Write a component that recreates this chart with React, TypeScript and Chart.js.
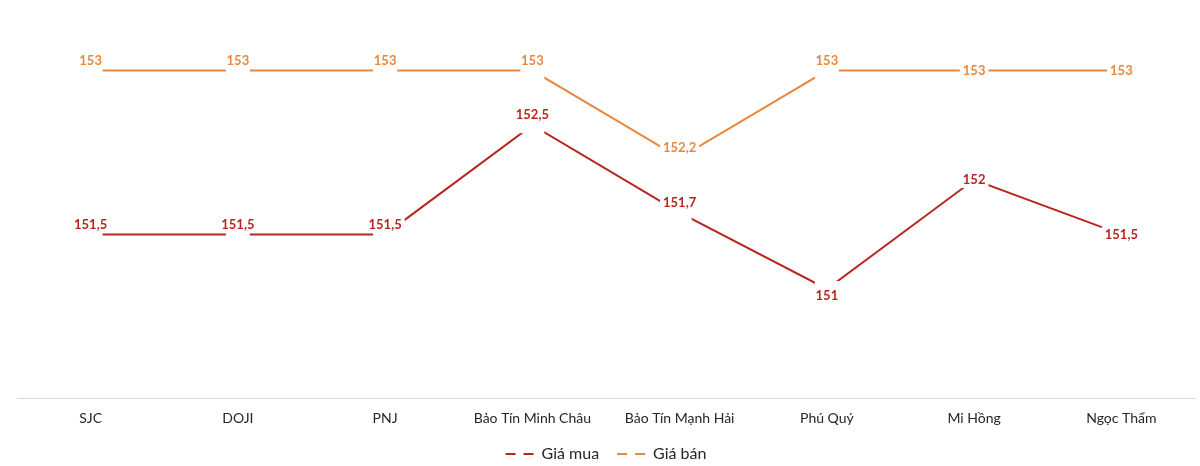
import { useEffect, useRef } from 'react'
import { Chart, registerables } from 'chart.js'
import type { Plugin } from 'chart.js'

Chart.register(...registerables)

// Gold price (million VND / tael) by company
const companies = ['SJC', 'DOJI', 'PNJ', 'Bảo Tín Minh Châu', 'Bảo Tín Mạnh Hải', 'Phú Quý', 'Mi Hồng', 'Ngọc Thẩm']
const buyPrices = [151.5, 151.5, 151.5, 152.5, 151.7, 151, 152, 151.5]
const sellPrices = [153, 153, 153, 153, 152.2, 153, 153, 153]

// where each value label sits relative to its point
const buyLabelPos = ['above', 'above', 'above', 'above', 'above', 'below', 'center', 'center']
const sellLabelPos = ['above', 'above', 'above', 'above', 'above', 'above', 'center', 'center']

const RED = '#B8261F'
const ORANGE = '#E8883F'
const FONT = 'Lato, "Open Sans", sans-serif'

const fmt = (v: number) => String(v).replace('.', ',')

const posShift: Record<string, number> = { above: -10, center: 0, below: 7 }

// Excel-style data labels: white boxes that hide the line round each point
const valueLabels: Plugin<'line'> = {
  id: 'valueLabels',
  afterDatasetsDraw(chart) {
    const ctx = chart.ctx
    ctx.save()
    ctx.font = `bold 13px ${FONT}`
    ctx.textAlign = 'center'
    ctx.textBaseline = 'middle'
    // masks first so no label is cut by a later one
    chart.data.datasets.forEach((_, di) => {
      const meta = chart.getDatasetMeta(di)
      meta.data.forEach((pt) => {
        ctx.fillStyle = '#ffffff'
        ctx.fillRect(pt.x - 12, pt.y - 8, 24, 16)
      })
    })
    chart.data.datasets.forEach((ds, di) => {
      const meta = chart.getDatasetMeta(di)
      const places = di === 0 ? buyLabelPos : sellLabelPos
      meta.data.forEach((pt, i) => {
        const text = fmt(ds.data[i] as number)
        const y = pt.y + posShift[places[i]]
        const w = ctx.measureText(text).width
        ctx.fillStyle = '#ffffff'
        ctx.fillRect(pt.x - w / 2 - 3, y - 8, w + 6, 16)
        ctx.fillStyle = ds.borderColor as string
        ctx.fillText(text, pt.x, y)
      })
    })
    ctx.restore()
  },
}

export default function App() {
  const canvasRef = useRef<HTMLCanvasElement | null>(null)
  const chartRef = useRef<Chart | null>(null)

  useEffect(() => {
    document.body.style.margin = '0'
    if (!canvasRef.current) return
    if (chartRef.current) chartRef.current.destroy()

    chartRef.current = new Chart(canvasRef.current, {
      type: 'line',
      data: {
        labels: companies,
        datasets: [
          {
            label: 'Giá mua',
            data: buyPrices,
            borderColor: RED,
            backgroundColor: RED,
            borderWidth: 2,
            pointRadius: 0,
            tension: 0,
          },
          {
            label: 'Giá bán',
            data: sellPrices,
            borderColor: ORANGE,
            backgroundColor: ORANGE,
            borderWidth: 2,
            pointRadius: 0,
            tension: 0,
          },
        ],
      },
      options: {
        responsive: true,
        maintainAspectRatio: false,
        animation: false,
        layout: { padding: { top: 16, left: 17, right: 5, bottom: -6 } },
        scales: {
          x: {
            offset: true,
            grid: { display: false, drawTicks: false },
            border: { display: true, color: '#d9d9d9', width: 1 },
            ticks: { color: '#262626', font: { family: FONT, size: 14 }, padding: 12, maxRotation: 0 },
            afterFit: (scale) => {
              // tighten the gap between the tick labels and the legend
              scale.height -= 11
            },
          },
          y: {
            display: false,
            min: 150,
            max: 153.5,
          },
        },
        plugins: {
          legend: {
            position: 'bottom',
            labels: {
              color: '#262626',
              font: { family: FONT, size: 16 },
              usePointStyle: true,
              pointStyleWidth: 28,
              padding: 18,
              generateLabels: (chart) =>
                chart.data.datasets.map((ds, i) => ({
                  text: ds.label as string,
                  datasetIndex: i,
                  pointStyle: 'line',
                  strokeStyle: ds.borderColor as string,
                  fillStyle: ds.borderColor as string,
                  lineWidth: 2,
                  lineDash: [10, 8],
                  fontColor: '#262626',
                  hidden: false,
                })),
            },
          },
          tooltip: { enabled: false },
        },
      },
      plugins: [valueLabels],
    })

    return () => {
      if (chartRef.current) {
        chartRef.current.destroy()
        chartRef.current = null
      }
    }
  }, [])

  return (
    <div style={{ position: 'relative', width: 1200, height: 466 }}>
      <canvas ref={canvasRef}></canvas>
    </div>
  )
}
